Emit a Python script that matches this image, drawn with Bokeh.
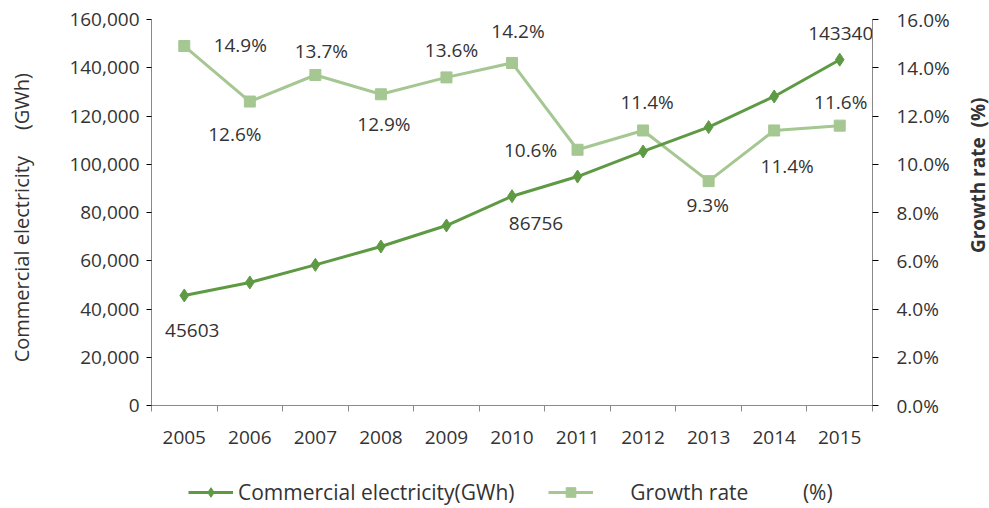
import math
from bokeh.plotting import figure
from bokeh.layouts import row, column
from bokeh.models import (ColumnDataSource, Range1d, LinearAxis, FixedTicker,
                          NumeralTickFormatter, Legend, LegendItem)
from bokeh.core.properties import value
from bokeh.embed import file_html
from bokeh.resources import INLINE

# ---- data ----
years = ["2005", "2006", "2007", "2008", "2009", "2010", "2011", "2012", "2013", "2014", "2015"]
electricity = [45603, 51000, 58300, 65900, 74600, 86756, 94900, 105300, 115400, 128100, 143340]
growth = [14.9, 12.6, 13.7, 12.9, 13.6, 14.2, 10.6, 11.4, 9.3, 11.4, 11.6]
elec_label_idx = [0, 5, 10]
growth_labels = ["14.9%", "12.6%", "13.7%", "12.9%", "13.6%", "14.2%", "10.6%", "11.4%", "9.3%", "11.4%", "11.6%"]
left_title = "Commercial electricity"
left_unit = "(GWh)"
right_title = "Growth rate"
right_unit = "(%)"
legend_labels = ["Commercial electricity(GWh)", "Growth rate", "(%)"]

# ---- styles ----
FONT = "Open Sans"
DARK = "#5e9a44"
LIGHT = "#a5c792"
AXIS = "#8a8a8a"
TXT = "#333333"
FS = "19px"
FT = "20px"
FL = "21px"
nb = "\u00a0"

# label offsets (pixels) relative to each point
g_dx = [56, -15, 6, 3, 5, 6, -47, 4, -1, 13, 1]
g_dy = [-1, 32, -24, 30, -27, -32, 0, -28, 24, 36, -24]
e_dx = [8, 24, 1]
e_dy = [35, 27, -26]

xs = [i + 0.5 for i in range(len(years))]

p = figure(frame_width=721, frame_height=386, width=967, height=456,
           x_range=Range1d(0, len(years)), y_range=Range1d(0, 160000),
           output_backend="svg", toolbar_location=None,
           min_border_left=151, min_border_right=95, min_border_top=19, min_border_bottom=51,
           x_axis_type=None, y_axis_type=None)
p.outline_line_color = None
p.xgrid.visible = False
p.ygrid.visible = False
p.extra_y_ranges = {"g": Range1d(0, 16)}

# x axis
xaxis = LinearAxis(ticker=FixedTicker(ticks=xs, minor_ticks=list(range(len(years) + 1))),
                   major_label_overrides={x: y for x, y in zip(xs, years)})
xaxis.major_tick_line_color = None
xaxis.major_tick_out = 0
xaxis.minor_tick_line_color = AXIS
xaxis.minor_tick_out = 6
xaxis.minor_tick_in = 0
xaxis.major_label_standoff = 19
p.add_layout(xaxis, "below")

# left axis
yaxis = LinearAxis(ticker=FixedTicker(ticks=list(range(0, 160001, 20000))),
                   formatter=NumeralTickFormatter(format="0,0"),
                   axis_label=left_title + nb * 5 + left_unit + nb * 2)
yaxis.major_tick_out = 5
yaxis.major_tick_in = 0
yaxis.minor_tick_line_color = None
yaxis.major_label_standoff = 7
yaxis.axis_label_standoff = 31
p.add_layout(yaxis, "left")

# right axis (its title is drawn in a narrow side strip so it reads bottom-to-top)
raxis = LinearAxis(y_range_name="g", ticker=FixedTicker(ticks=list(range(0, 17, 2))),
                   formatter=NumeralTickFormatter(format="0.0"))
raxis.major_label_overrides = {t: f"{t:.1f}%" for t in range(0, 17, 2)}
raxis.major_tick_out = 6
raxis.major_tick_in = 0
raxis.minor_tick_line_color = None
raxis.major_label_standoff = 18
p.add_layout(raxis, "right")

for ax in (xaxis, yaxis, raxis):
    ax.axis_line_color = AXIS
    ax.major_label_text_font = FONT
    ax.major_label_text_font_size = FS
    ax.major_label_text_color = TXT
    ax.axis_label_text_font = FONT
    ax.axis_label_text_font_size = FT
    ax.axis_label_text_color = TXT
yaxis.axis_label_text_font_style = "normal"

src = ColumnDataSource(dict(x=xs, e=electricity, g=growth, gl=growth_labels, gdx=g_dx, gdy=g_dy))

p.line("x", "g", source=src, y_range_name="g", line_color=LIGHT, line_width=3)
p.scatter("x", "g", source=src, y_range_name="g", marker="square", size=11,
          fill_color=LIGHT, line_color=LIGHT)
p.line("x", "e", source=src, line_color=DARK, line_width=3)
p.scatter("x", "e", source=src, marker="diamond", size=13, fill_color=DARK, line_color=DARK)

p.text("x", "g", text="gl", source=src, y_range_name="g", x_offset="gdx", y_offset="gdy",
       text_align="center", text_baseline="middle", text_font=value(FONT),
       text_font_size=FS, text_color=TXT)

esrc = ColumnDataSource(dict(x=[xs[i] for i in elec_label_idx],
                             e=[electricity[i] for i in elec_label_idx],
                             t=[str(electricity[i]) for i in elec_label_idx],
                             dx=e_dx, dy=e_dy))
p.text("x", "e", text="t", source=esrc, x_offset="dx", y_offset="dy",
       text_align="center", text_baseline="middle", text_font=value(FONT),
       text_font_size=FS, text_color=TXT)

# ---- right title strip ----
RT_W, H_MAIN = 22, 456
rt = figure(width=RT_W, height=H_MAIN, x_range=Range1d(0, RT_W), y_range=Range1d(0, H_MAIN),
            output_backend="svg", toolbar_location=None, min_border=0,
            x_axis_type=None, y_axis_type=None)
rt.outline_line_color = None
rt.xgrid.visible = False
rt.ygrid.visible = False
rt.text(x=[10], y=[H_MAIN - 184], text=[right_title + nb * 2 + right_unit], angle=math.pi / 2,
        text_align="center", text_baseline="middle", text_font=value(FONT),
        text_font_size=FS, text_font_style="bold", text_color=TXT)

# ---- legend strip ----
leg = figure(width=989, height=52, x_range=Range1d(0, 1), y_range=Range1d(0, 1),
             output_backend="svg", toolbar_location=None, min_border=0,
             x_axis_type=None, y_axis_type=None)
leg.outline_line_color = None
leg.xgrid.visible = False
leg.ygrid.visible = False
# legend-only renderers: they hold a single missing value, so nothing is drawn in the strip
nan_src = ColumnDataSource(dict(x=[float("nan")], y=[float("nan")]))
l1 = leg.line("x", "y", source=nan_src, line_color=DARK, line_width=3)
s1 = leg.scatter("x", "y", source=nan_src, marker="diamond", size=13, fill_color=DARK, line_color=DARK)
l2 = leg.line("x", "y", source=nan_src, line_color=LIGHT, line_width=3)
s2 = leg.scatter("x", "y", source=nan_src, marker="square", size=11, fill_color=LIGHT, line_color=LIGHT)

legend = Legend(items=[
    LegendItem(label=legend_labels[0], renderers=[l1, s1]),
    LegendItem(label=nb * 6 + legend_labels[1] + nb * 10 + legend_labels[2], renderers=[l2, s2]),
], orientation="horizontal", location=(188, 2))
legend.label_text_font = FONT
legend.label_text_font_size = FL
legend.label_text_color = TXT
legend.glyph_width = 45
legend.glyph_height = 24
legend.label_height = 24
legend.label_standoff = 5
legend.spacing = 33
legend.padding = 0
legend.margin = 0
legend.border_line_color = None
legend.background_fill_alpha = 0
leg.add_layout(legend, "center")

layout = column(row(p, rt, spacing=0), leg, spacing=0)
open("out.html", "w").write(file_html(layout, INLINE))
